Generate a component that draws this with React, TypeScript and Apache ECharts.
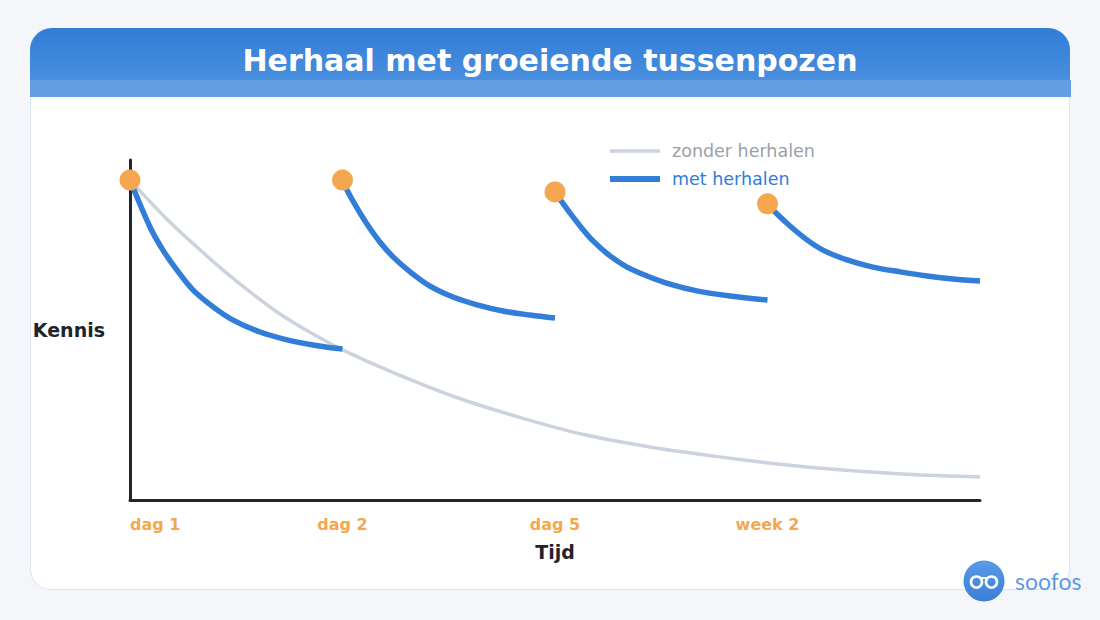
import React, { useEffect, useRef } from "react";
import * as echarts from "echarts";

// Moments of review on the time axis (equal spacing per review)
const tickLabels = ["dag 1", "dag 2", "dag 5", "week 2"];
const reviewMoments = [0, 1, 2, 3];
const reviewLevels = [94.1, 94.1, 90.6, 87.1];

// Knowledge (%) over time without any repetition
const withoutReview: number[][] = [
  [0, 94.1], [0.174, 82.6], [0.315, 74.4], [0.438, 67.6], [0.565, 61.2],
  [0.706, 54.7], [0.861, 48.8], [1.002, 44.1], [1.242, 37.4], [1.544, 30.0],
  [1.845, 24.1], [2.146, 19.1], [2.447, 15.6], [2.748, 12.9], [3.049, 10.6],
  [3.351, 8.8], [3.652, 7.6], [4.0, 6.8],
];

// Knowledge (%) after each review moment
const afterReview1: number[][] = [
  [0, 94.1], [0.094, 80.3], [0.155, 73.5], [0.221, 67.6], [0.296, 61.8],
  [0.391, 56.8], [0.485, 52.9], [0.612, 49.4], [0.739, 47.1], [0.861, 45.6],
  [1.0, 44.4],
];
const afterReview2: number[][] = [
  [1, 94.1], [1.026, 90.6], [1.068, 85.9], [1.115, 81.2], [1.176, 75.9],
  [1.238, 71.5], [1.318, 67.1], [1.412, 62.9], [1.52, 59.7], [1.633, 57.4],
  [1.755, 55.6], [1.882, 54.4], [2.0, 53.5],
];
const afterReview3: number[][] = [
  [2, 90.6], [2.033, 87.6], [2.071, 84.4], [2.118, 80.6], [2.179, 76.2],
  [2.259, 71.8], [2.339, 68.5], [2.433, 65.9], [2.541, 63.5], [2.668, 61.5],
  [2.824, 60.0], [3.0, 58.8],
];
const afterReview4: number[][] = [
  [3, 87.1], [3.045, 84.1], [3.106, 80.6], [3.186, 76.5], [3.261, 73.5],
  [3.374, 70.6], [3.496, 68.5], [3.624, 67.1], [3.751, 65.9], [3.873, 65.0],
  [4.0, 64.4],
];

const BLUE = "#317dd7";
const GREY = "#ccd3de";
const ORANGE = "#f4a74f";
const INK = "#22262e";

export default function App() {
  const ref = useRef<HTMLDivElement>(null);

  useEffect(() => {
    if (!ref.current) return;
    const chart = echarts.init(ref.current, undefined, { renderer: "svg" });

    const reviewSeries = [afterReview1, afterReview2, afterReview3, afterReview4].map((d) => ({
      name: "met herhalen",
      type: "line",
      data: d,
      smooth: 0.35,
      showSymbol: false,
      lineStyle: { color: BLUE, width: 5.5 },
      itemStyle: { color: BLUE },
      z: 3,
    }));

    const legendBase = {
      left: 610,
      padding: 0,
      itemWidth: 50,
      icon: "rect",
      textStyle: { fontSize: 17.5, padding: [0, 0, 0, 7] },
    };

    chart.setOption({
      animation: false,
      backgroundColor: "#f4f6fa",
      textStyle: { fontFamily: "DejaVu Sans" },
      title: {
        text: "Herhaal met groeiende tussenpozen",
        left: "center",
        top: 40,
        textStyle: { color: "#ffffff", fontSize: 30, fontWeight: "bold", fontFamily: "DejaVu Sans" },
      },
      legend: [
        {
          ...legendBase,
          top: 142,
          itemHeight: 3.5,
          data: [{ name: "zonder herhalen", textStyle: { color: "#9aa0aa" }, itemStyle: { color: GREY } }],
        },
        {
          ...legendBase,
          top: 170,
          itemHeight: 6,
          data: [{ name: "met herhalen", textStyle: { color: BLUE }, itemStyle: { color: BLUE } }],
        },
      ],
      grid: { left: 130, right: 120, top: 160, bottom: 120 },
      xAxis: {
        type: "value",
        min: 0,
        max: 4,
        interval: 1,
        name: "Tijd",
        nameLocation: "middle",
        nameGap: 42,
        nameTextStyle: { color: "#1f242c", fontSize: 19, fontWeight: "bold" },
        axisLine: { show: true, lineStyle: { color: INK, width: 3 } },
        axisTick: { show: false },
        splitLine: { show: false },
        axisLabel: {
          color: ORANGE,
          fontSize: 16,
          fontWeight: "bold",
          margin: 16,
          alignMinLabel: "left",
          formatter: (v: number) => tickLabels[Math.round(v)] ?? "",
        },
      },
      yAxis: {
        type: "value",
        min: 0,
        max: 100,
        name: "Kennis",
        nameLocation: "middle",
        nameRotate: 0,
        nameGap: 25,
        nameTextStyle: { color: "#1f242c", fontSize: 19, fontWeight: "bold" },
        axisLine: { show: true, lineStyle: { color: INK, width: 3 } },
        axisTick: { show: false },
        axisLabel: { show: false },
        splitLine: { show: false },
      },
      graphic: [
        // card
        {
          type: "rect",
          z: -10,
          shape: { x: 30.5, y: 28.5, width: 1039, height: 561, r: 20 },
          style: { fill: "#ffffff", stroke: "#dbe3ef", lineWidth: 1 },
        },
        // header
        {
          type: "rect",
          z: -9,
          shape: { x: 30, y: 28, width: 1040, height: 53, r: [22, 22, 0, 0] },
          style: {
            fill: new echarts.graphic.LinearGradient(0, 0, 0, 1, [
              { offset: 0, color: "#317dd6" },
              { offset: 1, color: "#4a8fdf" },
            ]),
          },
        },
        {
          type: "rect",
          z: -9,
          shape: { x: 30, y: 80, width: 1041, height: 17 },
          style: { fill: "#639ee2" },
        },
        // brand mark
        {
          type: "circle",
          z: 10,
          shape: { cx: 984, cy: 581, r: 20.5 },
          style: {
            fill: new echarts.graphic.LinearGradient(0, 0, 0, 1, [
              { offset: 0, color: "#5a9be6" },
              { offset: 1, color: "#3a7fd8" },
            ]),
          },
        },
        {
          type: "circle",
          z: 11,
          shape: { cx: 976.5, cy: 582, r: 5.5 },
          style: { fill: "none", stroke: "#ffffff", lineWidth: 2.6 },
        },
        {
          type: "circle",
          z: 11,
          shape: { cx: 991.5, cy: 582, r: 5.5 },
          style: { fill: "none", stroke: "#ffffff", lineWidth: 2.6 },
        },
        {
          type: "line",
          z: 11,
          shape: { x1: 981, y1: 578, x2: 987, y2: 578 },
          style: { stroke: "#ffffff", lineWidth: 2 },
        },
        {
          type: "text",
          z: 11,
          x: 1015,
          y: 581,
          style: {
            text: "soofos",
            fill: "#5a9be6",
            fontSize: 23,
            fontFamily: "Lato",
            verticalAlign: "middle",
            align: "left",
          },
        },
      ],
      series: [
        {
          name: "zonder herhalen",
          type: "line",
          data: withoutReview,
          smooth: 0.35,
          showSymbol: false,
          lineStyle: { color: GREY, width: 3.5 },
          itemStyle: { color: GREY },
          z: 2,
        },
        ...reviewSeries,
        {
          name: "herhaalmoment",
          type: "scatter",
          data: reviewMoments.map((x, i) => [x, reviewLevels[i]]),
          symbolSize: 21,
          itemStyle: { color: ORANGE, opacity: 1 },
          z: 5,
        },
      ],
    });

    return () => chart.dispose();
  }, []);

  return (
    <div
      ref={ref}
      style={{ position: "absolute", left: 0, top: 0, width: 1100, height: 620 }}
    />
  );
}
